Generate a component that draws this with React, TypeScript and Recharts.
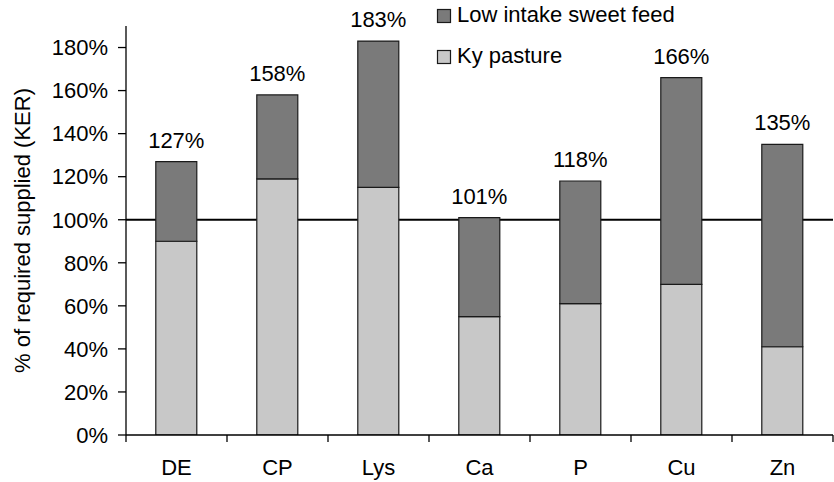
import { BarChart, Bar, XAxis, YAxis, CartesianGrid, LabelList } from "recharts";

const nutrients = ["DE", "CP", "Lys", "Ca", "P", "Cu", "Zn"];
const pasture = [90, 119, 115, 55, 61, 70, 41];
const sweetFeed = [37, 39, 68, 46, 57, 96, 94];
const totals = [127, 158, 183, 101, 118, 166, 135];
const yTicks = [0, 20, 40, 60, 80, 100, 120, 140, 160, 180];

const FONT = '"Liberation Sans", Arial, sans-serif';
const FS = 22;
const DARK = "#7a7a7a";
const LIGHT = "#c8c8c8";
const EDGE = "#1a1a1a";

const data = nutrients.map((n, i) => ({
  name: n,
  pasture: pasture[i],
  sweet: sweetFeed[i],
  total: totals[i],
}));

const W = 834;
const H = 482;
const margin = { top: 26, right: 1, bottom: 0, left: 0 };
const yWidth = 126;
const xHeight = 47;
const band = (W - margin.left - margin.right - yWidth) / nutrients.length;

const CategoryTick = (props: any) => {
  const { x, y, payload, index } = props;
  const half = band / 2;
  return (
    <g>
      <line x1={x - half} x2={x - half} y1={y} y2={y + 7} stroke="#000" strokeWidth={1.3} />
      {index === nutrients.length - 1 && (
        <line x1={x + half} x2={x + half} y1={y} y2={y + 7} stroke="#000" strokeWidth={1.3} />
      )}
      <text x={x} y={y + 40} textAnchor="middle" fontSize={FS} fontFamily={FONT} fill="#000">
        {payload.value}
      </text>
    </g>
  );
};

const LegendBox = () => (
  <svg width={280} height={72} style={{ position: "absolute", left: 434, top: 0 }}>
    <rect x={3.5} y={9.5} width={13} height={13} fill={DARK} stroke={EDGE} strokeWidth={1.2} />
    <text x={23} y={22} fontSize={FS} fontFamily={FONT} fill="#000">
      Low intake sweet feed
    </text>
    <rect x={3.5} y={50.5} width={13} height={13} fill={LIGHT} stroke={EDGE} strokeWidth={1.2} />
    <text x={23} y={63} fontSize={FS} fontFamily={FONT} fill="#000">
      Ky pasture
    </text>
  </svg>
);

const YLabel = (props: any) => {
  const { viewBox } = props;
  const cx = 22;
  const cy = viewBox.y + viewBox.height / 2;
  return (
    <text
      x={cx}
      y={cy}
      transform={`rotate(-90 ${cx} ${cy})`}
      textAnchor="middle"
      dominantBaseline="central"
      fontSize={FS}
      fontFamily={FONT}
      fill="#000"
    >
      % of required supplied (KER)
    </text>
  );
};

export default function App() {
  return (
    <div style={{ position: "absolute", left: 0, top: 0, width: W, height: H, background: "#fff" }}>
      <BarChart width={W} height={H} data={data} margin={margin} barCategoryGap="29.5%">
        <CartesianGrid
          vertical={false}
          horizontalValues={[100]}
          stroke="#000"
          strokeWidth={2}
        />
        <XAxis
          dataKey="name"
          height={xHeight}
          axisLine={{ stroke: "#000", strokeWidth: 1.3 }}
          tickLine={false}
          tickSize={0}
          tickMargin={0}
          tick={<CategoryTick />}
          interval={0}
        />
        <YAxis
          width={yWidth}
          domain={[0, 190]}
          ticks={yTicks}
          allowDataOverflow
          tickFormatter={(v) => `${v}%`}
          axisLine={{ stroke: "#000", strokeWidth: 1.3 }}
          tickLine={{ stroke: "#000", strokeWidth: 1.3 }}
          tickSize={8}
          tickMargin={10}
          tick={{ fontSize: FS, fontFamily: FONT, fill: "#000" }}
          label={<YLabel />}
        />
        <Bar
          dataKey="pasture"
          stackId="a"
          fill={LIGHT}
          stroke={EDGE}
          strokeWidth={1.2}
          isAnimationActive={false}
        />
        <Bar
          dataKey="sweet"
          stackId="a"
          fill={DARK}
          stroke={EDGE}
          strokeWidth={1.2}
          isAnimationActive={false}
        >
          <LabelList
            dataKey="total"
            position="top"
            offset={14}
            formatter={(v: number) => `${v}%`}
            style={{ fontSize: FS, fontFamily: FONT, fill: "#000" }}
          />
        </Bar>
      </BarChart>
      <LegendBox />
    </div>
  );
}
